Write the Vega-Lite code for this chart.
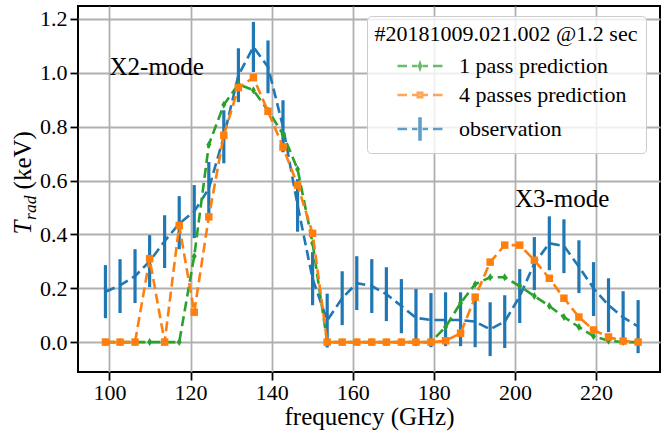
{
  "$schema": "https://vega.github.io/schema/vega-lite/v6.json",
  "width": 582,
  "height": 366,
  "autosize": {"type": "none"},
  "padding": {"left": 78, "top": 6, "right": 1, "bottom": 64},
  "background": "white",
  "config": {
    "view": {"stroke": "black", "strokeWidth": 2},
    "font": "Liberation Serif",
    "text": {"font": "Liberation Serif"},
    "style": {
      "guide-label": {"font": "Liberation Serif", "fontSize": 22, "fill": "black"},
      "guide-title": {"font": "Liberation Serif", "fontSize": 25, "fill": "black"}
    },
    "axis": {
      "domain": false, "grid": true, "gridColor": "#b0b0b0", "gridWidth": 1.8,
      "tickColor": "black", "tickSize": 8, "tickWidth": 1.8,
      "labelFont": "Liberation Serif", "labelFontSize": 22, "labelColor": "black",
      "titleFont": "Liberation Serif", "titleFontSize": 25, "titleFontWeight": "normal", "titleColor": "black"
    }
  },
  "datasets": {
    "obs": [
      {"f": 99.0, "t": 0.187, "lo": 0.089, "hi": 0.286},
      {"f": 102.6, "t": 0.211, "lo": 0.108, "hi": 0.308},
      {"f": 106.3, "t": 0.245, "lo": 0.145, "hi": 0.345},
      {"f": 109.9, "t": 0.300, "lo": 0.204, "hi": 0.397},
      {"f": 113.6, "t": 0.375, "lo": 0.275, "hi": 0.471},
      {"f": 117.2, "t": 0.440, "lo": 0.345, "hi": 0.542},
      {"f": 120.9, "t": 0.485, "lo": 0.386, "hi": 0.583},
      {"f": 124.5, "t": 0.570, "lo": 0.470, "hi": 0.669},
      {"f": 128.2, "t": 0.763, "lo": 0.664, "hi": 0.861},
      {"f": 131.8, "t": 0.991, "lo": 0.891, "hi": 1.091},
      {"f": 135.5, "t": 1.096, "lo": 1.003, "hi": 1.189},
      {"f": 139.1, "t": 1.022, "lo": 0.924, "hi": 1.120},
      {"f": 142.8, "t": 0.800, "lo": 0.705, "hi": 0.898},
      {"f": 146.4, "t": 0.508, "lo": 0.410, "hi": 0.605},
      {"f": 150.1, "t": 0.235, "lo": 0.137, "hi": 0.334},
      {"f": 153.7, "t": 0.080, "lo": -0.020, "hi": 0.180},
      {"f": 157.4, "t": 0.163, "lo": 0.063, "hi": 0.263},
      {"f": 161.0, "t": 0.219, "lo": 0.119, "hi": 0.319},
      {"f": 164.7, "t": 0.208, "lo": 0.108, "hi": 0.308},
      {"f": 168.3, "t": 0.178, "lo": 0.078, "hi": 0.278},
      {"f": 172.0, "t": 0.134, "lo": 0.033, "hi": 0.234},
      {"f": 175.6, "t": 0.090, "lo": -0.015, "hi": 0.197},
      {"f": 179.3, "t": 0.082, "lo": -0.019, "hi": 0.182},
      {"f": 182.9, "t": 0.082, "lo": -0.015, "hi": 0.185},
      {"f": 186.6, "t": 0.082, "lo": -0.015, "hi": 0.185},
      {"f": 190.2, "t": 0.076, "lo": -0.019, "hi": 0.171},
      {"f": 193.9, "t": 0.048, "lo": -0.052, "hi": 0.148},
      {"f": 197.5, "t": 0.076, "lo": -0.022, "hi": 0.174},
      {"f": 201.2, "t": 0.170, "lo": 0.071, "hi": 0.271},
      {"f": 204.8, "t": 0.292, "lo": 0.193, "hi": 0.390},
      {"f": 208.5, "t": 0.367, "lo": 0.267, "hi": 0.467},
      {"f": 212.1, "t": 0.357, "lo": 0.256, "hi": 0.456},
      {"f": 215.8, "t": 0.280, "lo": 0.182, "hi": 0.378},
      {"f": 219.4, "t": 0.200, "lo": 0.097, "hi": 0.297},
      {"f": 223.1, "t": 0.137, "lo": 0.037, "hi": 0.237},
      {"f": 226.7, "t": 0.092, "lo": -0.007, "hi": 0.189},
      {"f": 230.4, "t": 0.058, "lo": -0.041, "hi": 0.156}
    ],
    "pred": [
      {"series": "1 pass prediction", "f": 99.0, "t": 0},
      {"series": "1 pass prediction", "f": 102.6, "t": 0},
      {"series": "1 pass prediction", "f": 106.3, "t": 0},
      {"series": "1 pass prediction", "f": 109.9, "t": 0},
      {"series": "1 pass prediction", "f": 113.6, "t": 0},
      {"series": "1 pass prediction", "f": 117.2, "t": 0},
      {"series": "1 pass prediction", "f": 120.9, "t": 0.319},
      {"series": "1 pass prediction", "f": 124.5, "t": 0.733},
      {"series": "1 pass prediction", "f": 128.2, "t": 0.881},
      {"series": "1 pass prediction", "f": 131.8, "t": 0.958},
      {"series": "1 pass prediction", "f": 135.5, "t": 0.935},
      {"series": "1 pass prediction", "f": 139.1, "t": 0.860},
      {"series": "1 pass prediction", "f": 142.8, "t": 0.772},
      {"series": "1 pass prediction", "f": 146.4, "t": 0.642},
      {"series": "1 pass prediction", "f": 150.1, "t": 0.367},
      {"series": "1 pass prediction", "f": 153.7, "t": 0},
      {"series": "1 pass prediction", "f": 157.4, "t": 0},
      {"series": "1 pass prediction", "f": 161.0, "t": 0},
      {"series": "1 pass prediction", "f": 164.7, "t": 0},
      {"series": "1 pass prediction", "f": 168.3, "t": 0},
      {"series": "1 pass prediction", "f": 172.0, "t": 0},
      {"series": "1 pass prediction", "f": 175.6, "t": 0},
      {"series": "1 pass prediction", "f": 179.3, "t": 0},
      {"series": "1 pass prediction", "f": 182.9, "t": 0.056},
      {"series": "1 pass prediction", "f": 186.6, "t": 0.145},
      {"series": "1 pass prediction", "f": 190.2, "t": 0.215},
      {"series": "1 pass prediction", "f": 193.9, "t": 0.241},
      {"series": "1 pass prediction", "f": 197.5, "t": 0.241},
      {"series": "1 pass prediction", "f": 201.2, "t": 0.208},
      {"series": "1 pass prediction", "f": 204.8, "t": 0.171},
      {"series": "1 pass prediction", "f": 208.5, "t": 0.134},
      {"series": "1 pass prediction", "f": 212.1, "t": 0.093},
      {"series": "1 pass prediction", "f": 215.8, "t": 0.056},
      {"series": "1 pass prediction", "f": 219.4, "t": 0.022},
      {"series": "1 pass prediction", "f": 223.1, "t": 0.005},
      {"series": "1 pass prediction", "f": 226.7, "t": 0},
      {"series": "1 pass prediction", "f": 230.4, "t": 0},
      {"series": "4 passes prediction", "f": 99.0, "t": 0},
      {"series": "4 passes prediction", "f": 102.6, "t": 0},
      {"series": "4 passes prediction", "f": 106.3, "t": 0},
      {"series": "4 passes prediction", "f": 109.9, "t": 0.310},
      {"series": "4 passes prediction", "f": 113.6, "t": 0},
      {"series": "4 passes prediction", "f": 117.2, "t": 0.433},
      {"series": "4 passes prediction", "f": 120.9, "t": 0.111},
      {"series": "4 passes prediction", "f": 124.5, "t": 0.465},
      {"series": "4 passes prediction", "f": 128.2, "t": 0.768},
      {"series": "4 passes prediction", "f": 131.8, "t": 0.945},
      {"series": "4 passes prediction", "f": 135.5, "t": 0.982},
      {"series": "4 passes prediction", "f": 139.1, "t": 0.857},
      {"series": "4 passes prediction", "f": 142.8, "t": 0.724},
      {"series": "4 passes prediction", "f": 146.4, "t": 0.583},
      {"series": "4 passes prediction", "f": 150.1, "t": 0.404},
      {"series": "4 passes prediction", "f": 153.7, "t": 0},
      {"series": "4 passes prediction", "f": 157.4, "t": 0},
      {"series": "4 passes prediction", "f": 161.0, "t": 0},
      {"series": "4 passes prediction", "f": 164.7, "t": 0},
      {"series": "4 passes prediction", "f": 168.3, "t": 0},
      {"series": "4 passes prediction", "f": 172.0, "t": 0},
      {"series": "4 passes prediction", "f": 175.6, "t": 0},
      {"series": "4 passes prediction", "f": 179.3, "t": 0},
      {"series": "4 passes prediction", "f": 182.9, "t": 0.005},
      {"series": "4 passes prediction", "f": 186.6, "t": 0.033},
      {"series": "4 passes prediction", "f": 190.2, "t": 0.167},
      {"series": "4 passes prediction", "f": 193.9, "t": 0.297},
      {"series": "4 passes prediction", "f": 197.5, "t": 0.360},
      {"series": "4 passes prediction", "f": 201.2, "t": 0.360},
      {"series": "4 passes prediction", "f": 204.8, "t": 0.304},
      {"series": "4 passes prediction", "f": 208.5, "t": 0.237},
      {"series": "4 passes prediction", "f": 212.1, "t": 0.163},
      {"series": "4 passes prediction", "f": 215.8, "t": 0.093},
      {"series": "4 passes prediction", "f": 219.4, "t": 0.045},
      {"series": "4 passes prediction", "f": 223.1, "t": 0.019},
      {"series": "4 passes prediction", "f": 226.7, "t": 0.004},
      {"series": "4 passes prediction", "f": 230.4, "t": 0}
    ],
    "notes": [
      {"label": "X2-mode"},
      {"label": "X3-mode"},
      {"label": "T"},
      {"label": "rad"},
      {"label": "(keV)"}
    ]
  },
  "layer": [
    {
      "data": {"name": "obs"},
      "mark": {"type": "rule", "color": "#1f77b4", "strokeWidth": 3.2},
      "encoding": {
        "x": {"field": "f", "type": "quantitative", "scale": {"domain": [92.23, 235.8], "nice": false, "zero": false}, "axis": {"values": [100, 120, 140, 160, 180, 200, 220], "title": "frequency (GHz)", "labelFont": "Liberation Serif", "labelFontSize": 22, "labelColor": "black", "labelPadding": 2, "titleFont": "Liberation Serif", "titleFontSize": 25, "titleFontWeight": "normal", "titleColor": "black", "titlePadding": 1, "encode": {"labels": {"update": {"font": {"value": "Liberation Serif"}, "fontSize": {"value": 22}}}}}},
        "y": {"field": "lo", "type": "quantitative", "scale": {"domain": [-0.111, 1.248], "nice": false, "zero": false}, "axis": {"values": [0, 0.2, 0.4, 0.6, 0.8, 1.0, 1.2], "format": ".1f", "title": null, "labelFont": "Liberation Serif", "labelFontSize": 22, "labelColor": "black", "labelPadding": 3, "encode": {"labels": {"update": {"font": {"value": "Liberation Serif"}, "fontSize": {"value": 22}}}}}},
        "y2": {"field": "hi"}
      }
    },
    {
      "data": {"name": "obs"},
      "mark": {"type": "line", "color": "#1f77b4", "strokeWidth": 2.6, "strokeDash": [10, 5]},
      "encoding": {
        "x": {"field": "f", "type": "quantitative", "scale": {"domain": [92.23, 235.8], "nice": false, "zero": false}},
        "y": {"field": "t", "type": "quantitative", "scale": {"domain": [-0.111, 1.248], "nice": false, "zero": false}}
      }
    },
    {
      "data": {"name": "pred"},
      "transform": [{"filter": "datum.series === '1 pass prediction'"}],
      "mark": {"type": "line", "color": "#2ca02c", "strokeWidth": 2.6, "strokeDash": [10, 5]},
      "encoding": {
        "x": {"field": "f", "type": "quantitative", "scale": {"domain": [92.23, 235.8], "nice": false, "zero": false}},
        "y": {"field": "t", "type": "quantitative", "scale": {"domain": [-0.111, 1.248], "nice": false, "zero": false}}
      }
    },
    {
      "data": {"name": "pred"},
      "transform": [{"filter": "datum.series === '1 pass prediction'"}],
      "mark": {"type": "point", "filled": true, "opacity": 1, "color": "#2ca02c", "shape": "M0,-1L0.62,0L0,1L-0.62,0Z", "size": 64},
      "encoding": {
        "x": {"field": "f", "type": "quantitative", "scale": {"domain": [92.23, 235.8], "nice": false, "zero": false}},
        "y": {"field": "t", "type": "quantitative", "scale": {"domain": [-0.111, 1.248], "nice": false, "zero": false}}
      }
    },
    {
      "data": {"name": "pred"},
      "transform": [{"filter": "datum.series === '4 passes prediction'"}],
      "mark": {"type": "line", "color": "#ff7f0e", "strokeWidth": 2.6, "strokeDash": [10, 5]},
      "encoding": {
        "x": {"field": "f", "type": "quantitative", "scale": {"domain": [92.23, 235.8], "nice": false, "zero": false}},
        "y": {"field": "t", "type": "quantitative", "scale": {"domain": [-0.111, 1.248], "nice": false, "zero": false}}
      }
    },
    {
      "data": {"name": "pred"},
      "transform": [{"filter": "datum.series === '4 passes prediction'"}],
      "mark": {"type": "point", "filled": true, "opacity": 1, "color": "#ff7f0e", "shape": "square", "size": 56},
      "encoding": {
        "x": {"field": "f", "type": "quantitative", "scale": {"domain": [92.23, 235.8], "nice": false, "zero": false}},
        "y": {"field": "t", "type": "quantitative", "scale": {"domain": [-0.111, 1.248], "nice": false, "zero": false}}
      }
    },
    {
      "data": {"name": "pred"},
      "transform": [{"filter": "datum.f < 0"}],
      "mark": {"type": "point", "filled": true, "strokeWidth": 2},
      "encoding": {
        "x": {"field": "f", "type": "quantitative", "scale": {"domain": [92.23, 235.8], "nice": false, "zero": false}},
        "y": {"field": "t", "type": "quantitative", "scale": {"domain": [-0.111, 1.248], "nice": false, "zero": false}},
        "fill": {
          "field": "series", "type": "nominal",
          "scale": {"domain": ["1 pass prediction", "4 passes prediction", "observation"], "range": ["#2ca02c", "#ff7f0e", "#1f77b4"]},
          "legend": {"title": "#20181009.021.002 @1.2 sec", "orient": "none", "legendX": 289, "legendY": 10, "padding": 8, "cornerRadius": 4, "strokeColor": "#cccccc", "fillColor": "rgba(255,255,255,0.8)", "titleFont": "Liberation Serif", "titleFontSize": 22, "titleFontWeight": "normal", "titleColor": "black", "titleAnchor": "middle", "titlePadding": 9, "titleLimit": 0, "labelLimit": 0, "labelFont": "Liberation Serif", "labelFontSize": 22, "labelColor": "black", "labelOffset": 28, "symbolSize": 100, "symbolStrokeWidth": 2.4, "symbolOffset": 23, "rowPadding": 7}
        },
        "stroke": {
          "field": "series", "type": "nominal",
          "scale": {"domain": ["1 pass prediction", "4 passes prediction", "observation"], "range": ["#2ca02c", "#ff7f0e", "#1f77b4"]},
          "legend": {"title": "#20181009.021.002 @1.2 sec", "orient": "none", "legendX": 289, "legendY": 10, "padding": 8, "cornerRadius": 4, "strokeColor": "#cccccc", "fillColor": "rgba(255,255,255,0.8)", "titleFont": "Liberation Serif", "titleFontSize": 22, "titleFontWeight": "normal", "titleColor": "black", "titleAnchor": "middle", "titlePadding": 9, "titleLimit": 0, "labelLimit": 0, "labelFont": "Liberation Serif", "labelFontSize": 22, "labelColor": "black", "labelOffset": 28, "symbolSize": 100, "symbolStrokeWidth": 2.4, "symbolOffset": 23, "rowPadding": 7}
        },
        "shape": {
          "field": "series", "type": "nominal",
          "scale": {"domain": ["1 pass prediction", "4 passes prediction", "observation"], "range": [
            "M-4.5,0H-2.6M-1.6,0H-0.5M0.5,0H1.6M2.6,0H4.5M0,-0.55L0.2,0L0,0.55L-0.2,0Z",
            "M-4.5,0H-2.6M-1.6,0H-0.5M0.5,0H1.6M2.6,0H4.5M-0.46,-0.46H0.46V0.46H-0.46Z",
            "M-4.5,0H-2.6M-1.6,0H-0.5M0.5,0H1.6M2.6,0H4.5M-0.12,-2.1H0.12V2.1H-0.12Z"
          ]},
          "legend": {"title": "#20181009.021.002 @1.2 sec", "orient": "none", "legendX": 289, "legendY": 10, "padding": 8, "cornerRadius": 4, "strokeColor": "#cccccc", "fillColor": "rgba(255,255,255,0.8)", "titleFont": "Liberation Serif", "titleFontSize": 22, "titleFontWeight": "normal", "titleColor": "black", "titleAnchor": "middle", "titlePadding": 9, "titleLimit": 0, "labelLimit": 0, "labelFont": "Liberation Serif", "labelFontSize": 22, "labelColor": "black", "labelOffset": 28, "symbolSize": 100, "symbolStrokeWidth": 2.4, "symbolOffset": 23, "rowPadding": 7}
        }
      }
    },
    {
      "data": {"name": "notes"},
      "transform": [{"filter": "datum.label === 'X2-mode'"}],
      "mark": {"type": "text", "align": "left", "baseline": "alphabetic", "font": "Liberation Serif", "fontSize": 25, "color": "black"},
      "encoding": {
        "text": {"field": "label"},
        "x": {"datum": 100, "type": "quantitative", "scale": {"domain": [92.23, 235.8], "nice": false, "zero": false}},
        "y": {"datum": 0.99, "type": "quantitative", "scale": {"domain": [-0.111, 1.248], "nice": false, "zero": false}}
      }
    },
    {
      "data": {"name": "notes"},
      "transform": [{"filter": "datum.label === 'X3-mode'"}],
      "mark": {"type": "text", "align": "left", "baseline": "alphabetic", "font": "Liberation Serif", "fontSize": 25, "color": "black"},
      "encoding": {
        "text": {"field": "label"},
        "x": {"datum": 200, "type": "quantitative", "scale": {"domain": [92.23, 235.8], "nice": false, "zero": false}},
        "y": {"datum": 0.5, "type": "quantitative", "scale": {"domain": [-0.111, 1.248], "nice": false, "zero": false}}
      }
    },
    {
      "data": {"name": "notes"},
      "transform": [{"filter": "datum.label === 'T'"}],
      "mark": {"type": "text", "angle": 270, "align": "left", "baseline": "alphabetic", "font": "Liberation Serif", "fontStyle": "italic", "fontSize": 25, "color": "black"},
      "encoding": {
        "text": {"field": "label"},
        "x": {"datum": 80.64, "type": "quantitative", "scale": {"domain": [92.23, 235.8], "nice": false, "zero": false}},
        "y": {"datum": 0.4, "type": "quantitative", "scale": {"domain": [-0.111, 1.248], "nice": false, "zero": false}}
      }
    },
    {
      "data": {"name": "notes"},
      "transform": [{"filter": "datum.label === 'rad'"}],
      "mark": {"type": "text", "angle": 270, "align": "left", "baseline": "alphabetic", "font": "Liberation Serif", "fontStyle": "italic", "fontSize": 17.5, "color": "black", "dx": 14.5, "dy": 5},
      "encoding": {
        "text": {"field": "label"},
        "x": {"datum": 80.64, "type": "quantitative", "scale": {"domain": [92.23, 235.8], "nice": false, "zero": false}},
        "y": {"datum": 0.4, "type": "quantitative", "scale": {"domain": [-0.111, 1.248], "nice": false, "zero": false}}
      }
    },
    {
      "data": {"name": "notes"},
      "transform": [{"filter": "datum.label === '(keV)'"}],
      "mark": {"type": "text", "angle": 270, "align": "left", "baseline": "alphabetic", "font": "Liberation Serif", "fontSize": 25, "color": "black", "dx": 45},
      "encoding": {
        "text": {"field": "label"},
        "x": {"datum": 80.64, "type": "quantitative", "scale": {"domain": [92.23, 235.8], "nice": false, "zero": false}},
        "y": {"datum": 0.4, "type": "quantitative", "scale": {"domain": [-0.111, 1.248], "nice": false, "zero": false}}
      }
    }
  ]
}
